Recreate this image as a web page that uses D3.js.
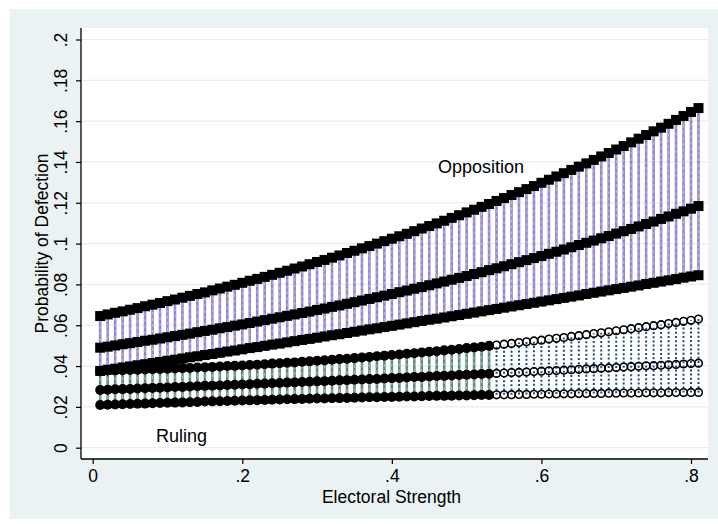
<!DOCTYPE html>
<html>
<head>
<meta charset="utf-8">
<script src="https://cdn.jsdelivr.net/npm/d3@7/dist/d3.min.js"></script>
<style>
  html, body { margin: 0; padding: 0; background: #ffffff; }
  svg { display: block; }
  text { font-family: "Liberation Sans", Arial, sans-serif; fill: #000; }
</style>
</head>
<body>
<svg id="chart" width="718" height="524"></svg>
<script>
// Electoral strength grid (x)
const strength = [0.01,0.02,0.03,0.04,0.05,0.06,0.07,0.08,0.09,0.10,
  0.11,0.12,0.13,0.14,0.15,0.16,0.17,0.18,0.19,0.20,
  0.21,0.22,0.23,0.24,0.25,0.26,0.27,0.28,0.29,0.30,
  0.31,0.32,0.33,0.34,0.35,0.36,0.37,0.38,0.39,0.40,
  0.41,0.42,0.43,0.44,0.45,0.46,0.47,0.48,0.49,0.50,
  0.51,0.52,0.53,0.54,0.55,0.56,0.57,0.58,0.59,0.60,
  0.61,0.62,0.63,0.64,0.65,0.66,0.67,0.68,0.69,0.70,
  0.71,0.72,0.73,0.74,0.75,0.76,0.77,0.78,0.79,0.80,0.81];

// Opposition parties: upper bound, point estimate, lower bound
const oppUpper = [.0645,.0653,.0661,.0668,.0676,.0684,.0693,.0701,.0709,.0718,
  .0726,.0735,.0744,.0753,.0761,.0771,.0780,.0789,.0798,.0808,
  .0818,.0827,.0837,.0847,.0857,.0867,.0878,.0888,.0899,.0910,
  .0920,.0931,.0942,.0954,.0965,.0977,.0988,.1000,.1012,.1024,
  .1036,.1048,.1061,.1074,.1086,.1099,.1112,.1126,.1139,.1153,
  .1166,.1180,.1194,.1209,.1223,.1238,.1252,.1267,.1282,.1298,
  .1313,.1329,.1345,.1361,.1377,.1393,.1410,.1427,.1444,.1461,
  .1478,.1496,.1514,.1532,.1550,.1568,.1587,.1606,.1625,.1645,.1664];
const oppMid = [.0490,.0495,.0501,.0507,.0512,.0518,.0524,.0529,.0535,.0541,
  .0547,.0553,.0559,.0566,.0572,.0578,.0585,.0591,.0598,.0604,
  .0611,.0618,.0625,.0632,.0639,.0646,.0653,.0660,.0667,.0675,
  .0682,.0690,.0697,.0705,.0713,.0721,.0729,.0737,.0745,.0753,
  .0762,.0770,.0779,.0787,.0796,.0805,.0814,.0823,.0832,.0841,
  .0851,.0860,.0870,.0879,.0889,.0899,.0909,.0919,.0929,.0939,
  .0950,.0960,.0971,.0982,.0993,.1004,.1015,.1026,.1037,.1049,
  .1061,.1072,.1084,.1096,.1108,.1121,.1133,.1146,.1158,.1171,.1184];
const oppLower = [.0376,.0382,.0387,.0393,.0398,.0404,.0409,.0415,.0420,.0426,
  .0431,.0437,.0443,.0448,.0454,.0459,.0465,.0471,.0476,.0482,
  .0488,.0493,.0499,.0505,.0510,.0516,.0522,.0528,.0533,.0539,
  .0545,.0551,.0556,.0562,.0568,.0574,.0580,.0585,.0591,.0597,
  .0603,.0609,.0615,.0621,.0627,.0632,.0638,.0644,.0650,.0656,
  .0662,.0668,.0674,.0680,.0686,.0692,.0698,.0704,.0710,.0716,
  .0722,.0728,.0734,.0740,.0746,.0753,.0759,.0765,.0771,.0777,
  .0783,.0789,.0795,.0802,.0808,.0814,.0820,.0826,.0833,.0839,.0845];

// Ruling parties: upper bound, point estimate, lower bound
const rulUpper = [.0377,.0378,.0379,.0380,.0381,.0382,.0383,.0384,.0386,.0387,
  .0388,.0390,.0391,.0393,.0394,.0396,.0398,.0400,.0401,.0403,
  .0405,.0407,.0409,.0412,.0414,.0416,.0418,.0421,.0423,.0426,
  .0428,.0431,.0434,.0436,.0439,.0442,.0445,.0448,.0451,.0454,
  .0457,.0460,.0463,.0467,.0470,.0473,.0477,.0480,.0484,.0488,
  .0491,.0495,.0499,.0503,.0507,.0511,.0515,.0519,.0523,.0527,
  .0532,.0536,.0540,.0545,.0549,.0554,.0559,.0563,.0568,.0573,
  .0578,.0583,.0588,.0593,.0598,.0603,.0608,.0614,.0619,.0624,.0630];
const rulMid = [.0283,.0284,.0286,.0287,.0288,.0290,.0291,.0293,.0294,.0295,
  .0297,.0298,.0300,.0301,.0303,.0304,.0305,.0307,.0308,.0310,
  .0311,.0313,.0314,.0316,.0317,.0319,.0320,.0322,.0323,.0325,
  .0326,.0328,.0330,.0331,.0333,.0334,.0336,.0337,.0339,.0341,
  .0342,.0344,.0346,.0347,.0349,.0351,.0352,.0354,.0356,.0357,
  .0359,.0361,.0362,.0364,.0366,.0368,.0369,.0371,.0373,.0375,
  .0377,.0378,.0380,.0382,.0384,.0386,.0387,.0389,.0391,.0393,
  .0395,.0397,.0399,.0401,.0402,.0404,.0406,.0408,.0410,.0412,.0414];
const rulLower = [.0209,.0210,.0212,.0213,.0214,.0215,.0216,.0218,.0219,.0220,
  .0221,.0222,.0223,.0224,.0226,.0227,.0228,.0229,.0230,.0231,
  .0232,.0233,.0234,.0235,.0236,.0237,.0238,.0239,.0240,.0241,
  .0241,.0242,.0243,.0244,.0245,.0246,.0247,.0247,.0248,.0249,
  .0250,.0251,.0251,.0252,.0253,.0254,.0254,.0255,.0256,.0256,
  .0257,.0258,.0258,.0259,.0259,.0260,.0261,.0261,.0262,.0262,
  .0263,.0263,.0264,.0264,.0265,.0265,.0266,.0266,.0267,.0267,
  .0268,.0268,.0268,.0269,.0269,.0269,.0270,.0270,.0270,.0271,.0271];

// Largest electoral strength observed for ruling parties (beyond it: out of sample)
const rulingObservedMax = 0.53;

const xTicks = [0, 0.2, 0.4, 0.6, 0.8];
const xTickLabels = ["0", ".2", ".4", ".6", ".8"];
const yTicks = [0, .02, .04, .06, .08, .1, .12, .14, .16, .18, .2];
const yTickLabels = ["0", ".02", ".04", ".06", ".08", ".1", ".12", ".14", ".16", ".18", ".2"];

const svg = d3.select("#chart");

// Regions
const region = { x: 10, y: 9, w: 708, h: 510 };
const plot = { left: 81, right: 708, top: 28, bottom: 459 };

const x = d3.scaleLinear().domain([0, 0.8]).range([92.7, 691]);
const y = d3.scaleLinear().domain([0, 0.2]).range([447.7, 39.5]);

svg.append("rect")
  .attr("x", region.x).attr("y", region.y)
  .attr("width", region.w).attr("height", region.h)
  .attr("fill", "#EAF2F3");

svg.append("rect")
  .attr("x", plot.left).attr("y", plot.top)
  .attr("width", plot.right - plot.left).attr("height", plot.bottom - plot.top)
  .attr("fill", "#ffffff");

// Horizontal gridlines
svg.append("g").selectAll("line")
  .data(yTicks)
  .join("line")
  .attr("x1", plot.left).attr("x2", plot.right)
  .attr("y1", d => y(d)).attr("y2", d => y(d))
  .attr("stroke", "#E6EEF0").attr("stroke-width", 1.2);

// Assemble point records
const opp = strength.map((s, i) => ({ s, hi: oppUpper[i], mid: oppMid[i], lo: oppLower[i] }));
const rul = strength.map((s, i) => ({ s, hi: rulUpper[i], mid: rulMid[i], lo: rulLower[i], inSample: s <= rulingObservedMax + 1e-9 }));

// Opposition spikes (lavender with lighter dashed core)
const gOppSpikes = svg.append("g");
gOppSpikes.selectAll("line.base").data(opp).join("line")
  .attr("class", "base")
  .attr("x1", d => x(d.s)).attr("x2", d => x(d.s))
  .attr("y1", d => y(d.lo)).attr("y2", d => y(d.hi))
  .attr("stroke", "#8F87CC").attr("stroke-width", 2.6);
gOppSpikes.selectAll("line.core").data(opp).join("line")
  .attr("class", "core")
  .attr("x1", d => x(d.s)).attr("x2", d => x(d.s))
  .attr("y1", d => y(d.lo)).attr("y2", d => y(d.hi))
  .attr("stroke", "#C9C4EC").attr("stroke-width", 0.8)
  .attr("stroke-dasharray", "3,3");

// Ruling spikes: in-sample solid grey-green, out-of-sample dotted navy
const gRulSpikes = svg.append("g");
const rulIn = rul.filter(d => d.inSample);
const rulOut = rul.filter(d => !d.inSample);
gRulSpikes.selectAll("line.base").data(rulIn).join("line")
  .attr("class", "base")
  .attr("x1", d => x(d.s)).attr("x2", d => x(d.s))
  .attr("y1", d => y(d.lo)).attr("y2", d => y(d.hi))
  .attr("stroke", "#5D8A80").attr("stroke-width", 2.6);
gRulSpikes.selectAll("line.core").data(rulIn).join("line")
  .attr("class", "core")
  .attr("x1", d => x(d.s)).attr("x2", d => x(d.s))
  .attr("y1", d => y(d.lo)).attr("y2", d => y(d.hi))
  .attr("stroke", "#B7CFC9").attr("stroke-width", 0.8)
  .attr("stroke-dasharray", "3,3");
gRulSpikes.selectAll("line.out").data(rulOut).join("line")
  .attr("class", "out")
  .attr("x1", d => x(d.s)).attr("x2", d => x(d.s))
  .attr("y1", d => y(d.lo)).attr("y2", d => y(d.hi))
  .attr("stroke", "#1E4B7A").attr("stroke-width", 2)
  .attr("stroke-dasharray", "2,2.2");

// Ruling markers
const r = 5;
const gRul = svg.append("g");
["hi", "mid", "lo"].forEach(k => {
  gRul.selectAll("circle.in-" + k).data(rulIn).join("circle")
    .attr("class", "in-" + k)
    .attr("cx", d => x(d.s)).attr("cy", d => y(d[k]))
    .attr("r", r).attr("fill", "#000");
  gRul.selectAll("circle.out-" + k).data(rulOut).join("circle")
    .attr("class", "out-" + k)
    .attr("cx", d => x(d.s)).attr("cy", d => y(d[k]))
    .attr("r", 3.8).attr("fill", "none")
    .attr("stroke", "#000").attr("stroke-width", 1.6);
});

// Opposition markers (squares)
const side = 10;
const gOpp = svg.append("g");
["hi", "mid", "lo"].forEach(k => {
  gOpp.selectAll("rect." + k).data(opp).join("rect")
    .attr("class", k)
    .attr("x", d => x(d.s) - side / 2).attr("y", d => y(d[k]) - side / 2)
    .attr("width", side).attr("height", side)
    .attr("fill", "#000");
});

// Axes
const fontSize = 17.5;
const yAxis = d3.axisLeft(y).tickValues(yTicks).tickSize(5).tickSizeOuter(0)
  .tickFormat((d, i) => yTickLabels[i]);
const gy = svg.append("g").attr("transform", `translate(${plot.left},0)`).call(yAxis);
gy.select(".domain").remove();
gy.selectAll(".tick line").attr("stroke", "#000").attr("stroke-width", 1.2);
gy.selectAll(".tick text")
  .attr("x", 0).attr("y", -14).attr("dy", 0)
  .attr("transform", "rotate(-90)")
  .attr("text-anchor", "middle")
  .style("font-size", fontSize + "px")
  .style("font-family", "'Liberation Sans', Arial, sans-serif")
  .attr("fill", "#000");

const xAxis = d3.axisBottom(x).tickValues(xTicks).tickSize(5).tickSizeOuter(0)
  .tickFormat((d, i) => xTickLabels[i]);
const gx = svg.append("g").attr("transform", `translate(0,${plot.bottom})`).call(xAxis);
gx.select(".domain").remove();
gx.selectAll(".tick line").attr("stroke", "#000").attr("stroke-width", 1.2);
gx.selectAll(".tick text")
  .attr("y", 23).attr("dy", 0)
  .style("font-size", fontSize + "px")
  .style("font-family", "'Liberation Sans', Arial, sans-serif")
  .attr("fill", "#000");

// Axis lines spanning the plot region
svg.append("line")
  .attr("x1", plot.left).attr("x2", plot.left)
  .attr("y1", plot.top).attr("y2", plot.bottom)
  .attr("stroke", "#000").attr("stroke-width", 1.3);
svg.append("line")
  .attr("x1", plot.left).attr("x2", plot.right)
  .attr("y1", plot.bottom).attr("y2", plot.bottom)
  .attr("stroke", "#000").attr("stroke-width", 1.3);

// Axis titles
svg.append("text")
  .attr("x", (plot.left + plot.right) / 2 - 3).attr("y", 503)
  .attr("text-anchor", "middle")
  .style("font-size", fontSize + "px")
  .text("Electoral Strength");

svg.append("text")
  .attr("transform", `translate(48,${(plot.top + plot.bottom) / 2}) rotate(-90)`)
  .attr("text-anchor", "middle")
  .style("font-size", fontSize + "px")
  .text("Probability of Defection");

// Group labels
svg.append("text")
  .attr("x", 438).attr("y", 173)
  .style("font-size", "18px")
  .text("Opposition");
svg.append("text")
  .attr("x", 156).attr("y", 442)
  .style("font-size", "18px")
  .text("Ruling");
</script>
</body>
</html>
